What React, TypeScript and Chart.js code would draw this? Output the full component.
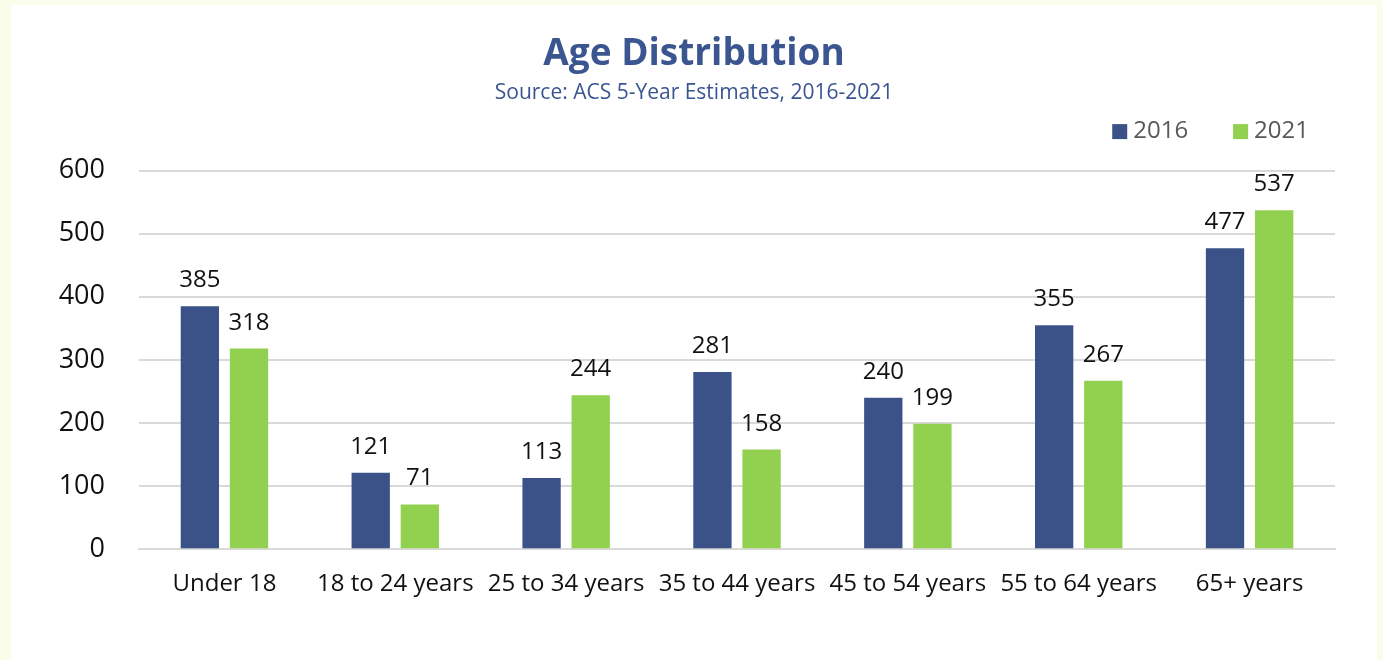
import React, { useEffect, useRef } from "react";
import { Chart, registerables } from "chart.js";

Chart.register(...registerables);

// Age groups and population counts per survey period
const categories = [
  "Under 18",
  "18 to 24 years",
  "25 to 34 years",
  "35 to 44 years",
  "45 to 54 years",
  "55 to 64 years",
  "65+ years",
];
const seriesLabels = ["2016", "2021"];
const values2016 = [385, 121, 113, 281, 240, 355, 477];
const values2021 = [318, 71, 244, 158, 199, 267, 537];
const yMin = 0;
const yMax = 600;
const yStep = 100;

const FONT = "'Open Sans', 'Noto Sans', sans-serif";
const BLUE = "#3b5289";
const GREEN = "#92d050";
const TITLE_BLUE = "#3b5591";

// Prints each bar's value just above it
const valueLabels = {
  id: "valueLabels",
  afterDatasetsDraw(chart: any) {
    const ctx = chart.ctx;
    ctx.save();
    ctx.font = `24px ${FONT}`;
    ctx.fillStyle = "#111111";
    ctx.textAlign = "center";
    ctx.textBaseline = "alphabetic";
    chart.data.datasets.forEach((ds: any, i: number) => {
      const meta = chart.getDatasetMeta(i);
      meta.data.forEach((el: any, j: number) => {
        ctx.fillText(String(ds.data[j]), el.x, el.y - 19);
      });
    });
    ctx.restore();
  },
};

// Compact legend in the top-right corner, above the plot area
const cornerLegend = {
  id: "cornerLegend",
  afterDraw(chart: any) {
    const { ctx, chartArea } = chart;
    ctx.save();
    ctx.font = `24px ${FONT}`;
    ctx.textBaseline = "middle";
    ctx.textAlign = "left";
    const cy = chartArea.top - 39;
    let x = chartArea.right - 26;
    const items = [...chart.data.datasets].reverse();
    items.forEach((ds: any) => {
      const w = ctx.measureText(ds.label).width;
      const tx = x - w;
      ctx.fillStyle = "#595959";
      ctx.fillText(ds.label, tx, cy);
      ctx.fillStyle = ds.backgroundColor;
      ctx.fillRect(tx - 6 - 15, cy - 7.5, 15, 15);
      x = tx - 6 - 15 - 45;
    });
    ctx.restore();
  },
};

export default function App() {
  const canvasRef = useRef<HTMLCanvasElement | null>(null);

  useEffect(() => {
    if (!canvasRef.current) return;
    const chart = new Chart(canvasRef.current, {
      type: "bar",
      data: {
        labels: categories,
        datasets: [
          {
            label: seriesLabels[0],
            data: values2016,
            backgroundColor: BLUE,
            categoryPercentage: 0.575,
            barPercentage: 0.78,
          },
          {
            label: seriesLabels[1],
            data: values2021,
            backgroundColor: GREEN,
            categoryPercentage: 0.575,
            barPercentage: 0.78,
          },
        ],
      },
      options: {
        responsive: false,
        animation: false,
        layout: { padding: { left: 42, right: 42, top: 0, bottom: 40 } },
        plugins: {
          legend: { display: false },
          tooltip: { enabled: false },
          title: {
            display: true,
            text: "Age Distribution",
            color: TITLE_BLUE,
            font: { family: FONT, size: 37, weight: "bold" },
            padding: { top: 27, bottom: 0 },
          },
          subtitle: {
            display: true,
            text: "Source: ACS 5-Year Estimates, 2016-2021",
            color: TITLE_BLUE,
            font: { family: FONT, size: 21 },
            padding: { top: 4, bottom: 65 },
          },
        },
        scales: {
          x: {
            grid: { display: false, drawTicks: false },
            border: { display: true, color: "#d9d9d9", width: 2 },
            ticks: {
              color: "#111111",
              font: { family: FONT, size: 24 },
              padding: 21,
              maxRotation: 0,
              autoSkip: false,
            },
          },
          y: {
            min: yMin,
            max: yMax,
            grid: { color: "#d9d9d9", lineWidth: 2, drawTicks: false },
            border: { display: false },
            ticks: {
              stepSize: yStep,
              color: "#111111",
              font: { family: FONT, size: 27 },
              padding: 34,
            },
            afterFit(scale: any) {
              scale.width = 86;
            },
          },
        },
      },
      plugins: [valueLabels, cornerLegend],
    });
    return () => chart.destroy();
  }, []);

  return (
    <div
      style={{
        position: "fixed",
        left: 0,
        top: 0,
        width: 1383,
        height: 660,
        background: "#fafdea",
      }}
    >
      <div
        style={{
          position: "absolute",
          left: 11,
          top: 5,
          width: 1366,
          height: 655,
          background: "#ffffff",
        }}
      >
        <canvas ref={canvasRef} width={1366} height={655} />
      </div>
    </div>
  );
}
